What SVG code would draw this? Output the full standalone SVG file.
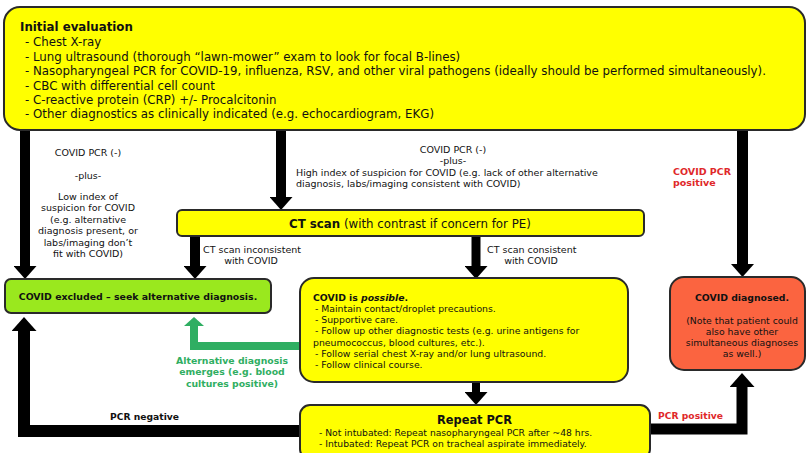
<svg xmlns="http://www.w3.org/2000/svg" width="807" height="453" viewBox="0 0 807 453">
<defs>
<style>
.t{font-family:"DejaVu Sans",Verdana,sans-serif;fill:#111}
.b{font-weight:bold}
.c{text-anchor:middle}
.box{stroke:#2a2a2a;stroke-width:2}
.y{fill:#ffff00}
.arr{fill:none;stroke:#000;stroke-linejoin:miter}
.red{fill:#e0282a}
.grn{fill:#2fae62}
</style>
<marker id="ah" markerUnits="userSpaceOnUse" viewBox="0 0 13 23" refX="0" refY="11.5" markerWidth="13" markerHeight="23" orient="auto"><path d="M0,0 L13,11.5 L0,23 z" fill="#000"/></marker>
<marker id="ahb" markerUnits="userSpaceOnUse" viewBox="0 0 14 25" refX="0" refY="12.5" markerWidth="14" markerHeight="25" orient="auto"><path d="M0,0 L14,12.5 L0,25 z" fill="#000"/></marker>
<marker id="ahg" markerUnits="userSpaceOnUse" viewBox="0 0 9 20" refX="0" refY="10" markerWidth="9" markerHeight="20" orient="auto"><path d="M0,0 L9,10 L0,20 z" fill="#2fae62"/></marker>
</defs>
<rect width="807" height="453" fill="#fff"/>

<g id="connectors">
<path class="arr" d="M25,130 V266" stroke-width="10" marker-end="url(#ah)"/>
<path class="arr" d="M281,130 V197" stroke-width="10" marker-end="url(#ah)"/>
<path class="arr" d="M742.5,130 V264" stroke-width="11" marker-end="url(#ah)"/>
<path class="arr" d="M195,236 V266" stroke-width="10" marker-end="url(#ah)"/>
<path class="arr" d="M476,236 V266" stroke-width="9" marker-end="url(#ah)"/>
<path class="arr" d="M476,382 V392" stroke-width="8" marker-end="url(#ah)"/>
<path class="arr" d="M300,431 H24 V331" stroke-width="12" marker-end="url(#ahb)"/>
<path class="arr" d="M650,429 H742 V387" stroke-width="11" marker-end="url(#ahb)"/>
<path class="arr" d="M300,346 H194 V326" stroke-width="8" style="stroke:#2fae62" marker-end="url(#ahg)"/>
</g>

<g id="initial">
<rect class="box y" x="4" y="7" width="801" height="123" rx="16"/>
<text class="t b" x="20" y="31" font-size="11.8">Initial evaluation</text>
<g class="t" font-size="11.8">
<text x="25" y="46">- Chest X-ray</text>
<text x="25" y="60.5">- Lung ultrasound (thorough “lawn-mower” exam to look for focal B-lines)</text>
<text x="25" y="75">- Nasopharyngeal PCR for COVID-19, influenza, RSV, and other viral pathogens (ideally should be performed simultaneously).</text>
<text x="25" y="89.5">- CBC with differential cell count</text>
<text x="25" y="104">- C-reactive protein (CRP) +/- Procalcitonin</text>
<text x="25" y="118">- Other diagnostics as clinically indicated (e.g. echocardiogram, EKG)</text>
</g>
</g>

<g id="label-low" class="t c" font-size="9.5">
<text x="88" y="155.5">COVID PCR (-)</text>
<text x="88" y="178.5">-plus-</text>
<text x="88" y="199.5">Low index of</text>
<text x="88" y="211">suspicion for COVID</text>
<text x="88" y="222.5">(e.g. alternative</text>
<text x="88" y="234">diagnosis present, or</text>
<text x="88" y="245.5">labs/imaging don’t</text>
<text x="88" y="257">fit with COVID)</text>
</g>

<g id="label-high" class="t" font-size="9.5">
<text class="c" x="453" y="152.5">COVID PCR (-)</text>
<text class="c" x="453" y="164">-plus-</text>
<text x="296" y="175.5">High index of suspicion for COVID (e.g. lack of other alternative</text>
<text x="296" y="187">diagnosis, labs/imaging consistent with COVID)</text>
</g>

<g id="label-pos" class="t b" font-size="9.5">
<text x="673" y="174.5" class="red">COVID PCR</text>
<text x="673" y="186" class="red">positive</text>
</g>

<g id="ct">
<rect class="box y" x="177" y="210" width="467" height="26" rx="5"/>
<text class="t" x="289" y="228" font-size="11.8"><tspan font-weight="bold">CT scan</tspan> (with contrast if concern for PE)</text>
</g>

<g id="label-ct" class="t" font-size="9.5">
<text x="203" y="252.5">CT scan inconsistent</text>
<text class="c" x="251" y="264">with COVID</text>
<text x="487" y="252.5">CT scan consistent</text>
<text class="c" x="531" y="264">with COVID</text>
</g>

<g id="excluded">
<rect class="box" x="5" y="279" width="266" height="34" rx="6" fill="#9ae81e"/>
<text class="t b c" x="138" y="299.5" font-size="9.4">COVID excluded – seek alternative diagnosis.</text>
</g>

<g id="possible">
<rect class="box y" x="300" y="278" width="328" height="104" rx="14"/>
<g class="t" font-size="9.3">
<text class="b" x="313" y="300.5">COVID is <tspan font-style="italic">possible</tspan>.</text>
<text x="315" y="311.8">- Maintain contact/droplet precautions.</text>
<text x="315" y="323.1">- Supportive care.</text>
<text x="315" y="334.4">- Follow up other diagnostic tests (e.g. urine antigens for</text>
<text x="313" y="345.7">pneumococcus, blood cultures, etc.).</text>
<text x="315" y="357">- Follow serial chest X-ray and/or lung ultrasound.</text>
<text x="315" y="368.3">- Follow clinical course.</text>
</g>
</g>

<g id="label-alt" class="t b c" font-size="9.3">
<text x="232" y="363.5" class="grn">Alternative diagnosis</text>
<text x="232" y="375" class="grn">emerges (e.g. blood</text>
<text x="232" y="386.5" class="grn">cultures positive)</text>
</g>

<g id="diagnosed">
<rect class="box" x="670" y="277" width="135" height="93" rx="14" fill="#fb6440"/>
<g class="t c" font-size="9.3">
<text class="b" x="742" y="300.5">COVID diagnosed.</text>
<text x="742" y="323.5">(Note that patient could</text>
<text x="742" y="334.5">also have other</text>
<text x="742" y="345.5">simultaneous diagnoses</text>
<text x="742" y="356.5">as well.)</text>
</g>
</g>

<g id="repeat">
<rect class="box y" x="300" y="405" width="350" height="54" rx="10"/>
<text class="t b c" x="474.5" y="424" font-size="11.4">Repeat PCR</text>
<g class="t" font-size="9.2">
<text x="319" y="435.5">- Not intubated: Repeat nasopharyngeal PCR after ~48 hrs.</text>
<text x="319" y="446.5">- Intubated: Repeat PCR on tracheal aspirate immediately.</text>
</g>
</g>

<g id="edge-labels" class="t b" font-size="9.2">
<text x="110" y="419.5">PCR negative</text>
<text x="658" y="418.5" class="red">PCR positive</text>
</g>
</svg>
